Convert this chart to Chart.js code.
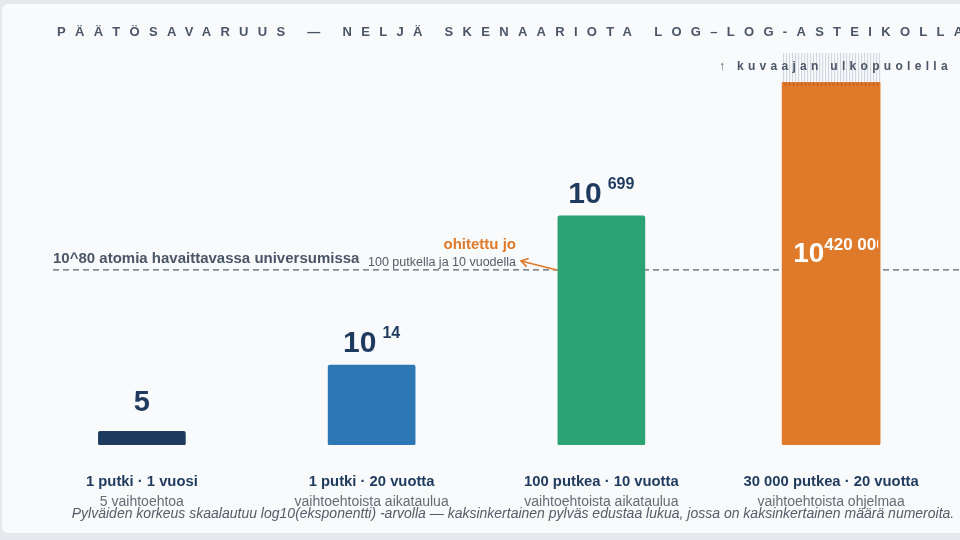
<!DOCTYPE html>
<html>
<head>
  <meta charset="UTF-8">
  <title>Päätösavaruus</title>
  <script src="https://cdn.jsdelivr.net/npm/chart.js"></script>
  <style>
    body { margin: 0; padding: 0; background: #e5e8ec; }
    #chart-container { width: 960px; height: 540px; }
  </style>
</head>
<body>
  <div id="chart-container">
    <canvas id="myChart" width="960" height="540"></canvas>
  </div>
  <script>
    // skenaariot ja niiden pylväät (log10(eksponentti) -asteikko, luettu kuvasta)
    const scenarios = ['1 putki · 1 vuosi', '1 putki · 20 vuotta', '100 putkea · 10 vuotta', '30 000 putkea · 20 vuotta'];
    const subtitles = ['5 vaihtoehtoa', 'vaihtoehtoista aikataulua', 'vaihtoehtoista aikataulua', 'vaihtoehtoista ohjelmaa'];
    const barHeights = [0.17, 0.99, 2.84, 5.62];
    const valueBase = ['5', '10', '10', '10'];
    const valueExp = ['', '14', '699', '420 000'];
    const barColors = ['#1f3a5f', '#2e77b5', '#2ca373', '#e07a2b'];
    const atomLine = 2.17;
    const yMax = 4.5;

    const FONT = '"Liberation Sans", Arial, sans-serif';
    const navy = '#1f3a5f';
    const orange = '#e07a2b';

    function font(size, weight, style) {
      return (style || '') + ' ' + (weight || 'normal') + ' ' + size + 'px ' + FONT;
    }

    const deco = {
      id: 'deco',
      beforeDraw(chart) {
        const ctx = chart.ctx;
        ctx.save();
        ctx.fillStyle = '#f8fafc';
        ctx.beginPath();
        ctx.roundRect(2, 4, 970, 529, 6);
        ctx.fill();
        ctx.restore();
      },
      beforeDatasetsDraw(chart) {
        const ctx = chart.ctx;
        const y = chart.scales.y.getPixelForValue(atomLine);
        ctx.save();
        ctx.strokeStyle = '#5a6270';
        ctx.lineWidth = 1.3;
        ctx.setLineDash([6, 4]);
        ctx.beginPath();
        ctx.moveTo(53, y);
        ctx.lineTo(960, y);
        ctx.stroke();
        ctx.setLineDash([]);
        ctx.fillStyle = '#4a5568';
        ctx.font = font(15, 'bold');
        ctx.textAlign = 'left';
        ctx.fillText('10^80 atomia havaittavassa universumissa', 53, y - 7);
        ctx.restore();
      },
      afterDatasetsDraw(chart) {
        const ctx = chart.ctx;
        const xs = chart.scales.x, ys = chart.scales.y;
        const area = chart.chartArea;
        ctx.save();

        // arvot pylväiden yläpuolella
        for (let i = 0; i < 3; i++) {
          const x = xs.getPixelForValue(i);
          const top = ys.getPixelForValue(barHeights[i]);
          ctx.fillStyle = navy;
          ctx.textAlign = 'left';
          if (!valueExp[i]) {
            ctx.font = font(29, 'bold');
            ctx.textAlign = 'center';
            ctx.fillText(valueBase[i], x, top - 20);
            continue;
          }
          ctx.font = font(30, 'bold');
          const w1 = ctx.measureText(valueBase[i]).width;
          ctx.font = font(16, 'bold');
          const w2 = ctx.measureText(valueExp[i]).width;
          const start = x - (w1 + 6 + w2) / 2;
          ctx.font = font(30, 'bold');
          ctx.fillText(valueBase[i], start, top - 13);
          ctx.font = font(16, 'bold');
          ctx.fillText(valueExp[i], start + w1 + 6, top - 27);
        }

        // viimeinen pylväs: kuvaajan ulkopuolella
        const bar = chart.getDatasetMeta(1).data[3];
        const left = bar.x - bar.width / 2, right = bar.x + bar.width / 2;
        ctx.strokeStyle = 'rgba(150,160,175,0.45)';
        ctx.lineWidth = 1;
        for (let x = left + 1; x < right; x += 3) {
          ctx.beginPath();
          ctx.moveTo(x + 0.5, area.top - 29);
          ctx.lineTo(x + 0.5, area.top);
          ctx.stroke();
        }
        ctx.strokeStyle = 'rgba(120,60,20,0.5)';
        for (let x = left + 3; x < right - 2; x += 4) {
          ctx.beginPath();
          ctx.moveTo(x + 0.5, area.top + 1);
          ctx.lineTo(x + 0.5, area.top + 4);
          ctx.stroke();
        }
        ctx.fillStyle = '#4a5568';
        ctx.font = font(12, 'bold');
        ctx.letterSpacing = '4.3px';
        ctx.textAlign = 'left';
        ctx.fillText('↑ kuvaajan ulkopuolella', 719, 70);
        ctx.letterSpacing = '0px';

        const yl = ys.getPixelForValue(atomLine);
        ctx.save();
        ctx.beginPath();
        ctx.rect(left, area.top, right - left - 2, area.bottom - area.top);
        ctx.clip();
        ctx.fillStyle = '#ffffff';
        ctx.font = font(28, 'bold');
        ctx.fillText(valueBase[3], left + 11, yl - 8);
        const w10 = ctx.measureText(valueBase[3]).width;
        ctx.font = font(17, 'bold');
        ctx.fillText(valueExp[3], left + 11 + w10, yl - 20);
        ctx.restore();

        // huomautus ja nuoli
        const b3 = chart.getDatasetMeta(0).data[2];
        const b3left = b3.x - b3.width / 2;
        ctx.strokeStyle = orange;
        ctx.lineWidth = 1.6;
        const ax = 521, ay = yl - 9;
        ctx.beginPath();
        ctx.moveTo(b3left - 1, yl);
        ctx.lineTo(ax, ay);
        ctx.stroke();
        const ang = Math.atan2(yl - ay, b3left - 1 - ax);
        ctx.beginPath();
        ctx.moveTo(ax + 8 * Math.cos(ang - 0.55), ay + 8 * Math.sin(ang - 0.55));
        ctx.lineTo(ax, ay);
        ctx.lineTo(ax + 8 * Math.cos(ang + 0.55), ay + 8 * Math.sin(ang + 0.55));
        ctx.stroke();
        ctx.textAlign = 'right';
        ctx.fillStyle = orange;
        ctx.font = font(15, 'bold');
        ctx.fillText('ohitettu jo', 516, yl - 21);
        ctx.fillStyle = '#555b66';
        ctx.font = font(12.5);
        ctx.fillText('100 putkella ja 10 vuodella', 516, yl - 4);

        // kategoriat
        ctx.textAlign = 'center';
        scenarios.forEach((s, i) => {
          const x = xs.getPixelForValue(i);
          ctx.fillStyle = navy;
          ctx.font = font(14.8, 'bold');
          ctx.fillText(s, x, 486);
          ctx.fillStyle = '#666b73';
          ctx.font = font(14);
          ctx.fillText(subtitles[i], x, 506);
        });

        ctx.fillStyle = '#555b66';
        ctx.font = font(14, 'normal', 'italic');
        ctx.fillText('Pylväiden korkeus skaalautuu log10(eksponentti) -arvolla — kaksinkertainen pylväs edustaa lukua, jossa on kaksinkertainen määrä numeroita.', 513, 518);

        // otsikko
        ctx.textAlign = 'left';
        ctx.fillStyle = '#4a5568';
        ctx.font = font(13, 'bold');
        ctx.letterSpacing = '9.3px';
        ctx.fillText('PÄÄTÖSAVARUUS — NELJÄ SKENAARIOTA LOG–LOG-ASTEIKOLLA', 57, 36);
        ctx.letterSpacing = '0px';
        ctx.restore();
      }
    };

    const ctx = document.getElementById('myChart').getContext('2d');
    new Chart(ctx, {
      type: 'bar',
      data: {
        labels: scenarios,
        datasets: [{
          data: barHeights.map((v, i) => i < 3 ? v : null),
          backgroundColor: barColors,
          barThickness: 87,
          borderRadius: 2,
          borderSkipped: false,
          grouped: false
        }, {
          data: barHeights.map((v, i) => i === 3 ? v : null),
          backgroundColor: barColors,
          barThickness: 98,
          borderRadius: 2,
          borderSkipped: false,
          grouped: false
        }]
      },
      options: {
        responsive: false,
        animation: false,
        layout: { padding: { left: 27, right: 14, top: 82, bottom: 95 } },
        plugins: { legend: { display: false }, tooltip: { enabled: false } },
        scales: {
          x: { display: false },
          y: { display: false, min: 0, max: yMax }
        }
      },
      plugins: [deco]
    });
  </script>
</body>
</html>
